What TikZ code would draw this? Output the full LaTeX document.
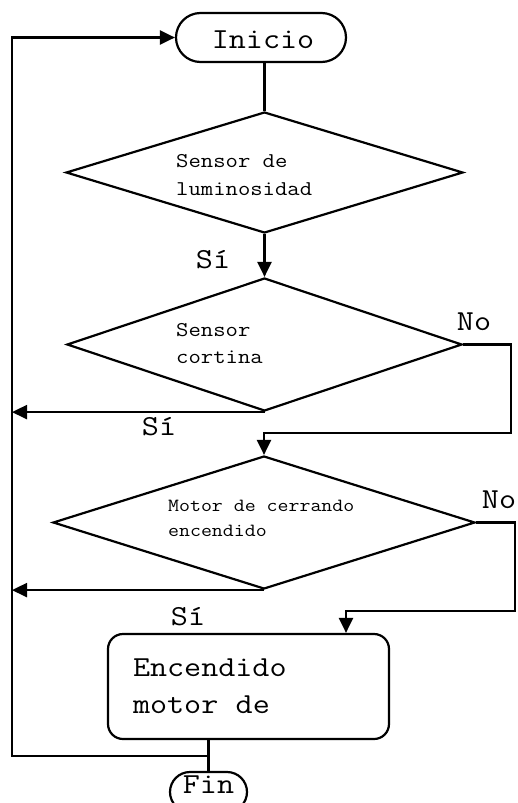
\documentclass[tikz,border=0pt]{standalone}
\usepackage{fontspec}
\setmonofont[FakeStretch=1.143]{Latin Modern Mono}
\usetikzlibrary{arrows.meta,shapes.geometric,shapes.misc}
\begin{document}
\begin{tikzpicture}[x=1pt,y=-1pt,
  every node/.style={font=\ttfamily},
  ln/.style={line width=2.2pt},
  arr/.style={line width=2.2pt,-{Triangle[length=15pt,width=14pt]}},
  term/.style={rounded rectangle, draw, line width=2.2pt, inner sep=0pt, font=\ttfamily\fontsize{29}{34}\selectfont},
  dec/.style={diamond, draw, line width=2.2pt, inner sep=0pt},
  dtext/.style={anchor=base west, align=left, inner sep=0pt},
  lbl/.style={anchor=base, inner sep=0pt, font=\ttfamily\fontsize{29}{34}\selectfont},
  proc/.style={rectangle, rounded corners=15pt, draw, line width=2.2pt, inner ysep=0pt, inner xsep=25pt, align=left, font=\ttfamily\fontsize{29}{37}\selectfont, execute at begin node={\spaceskip=0.6em\relax}}
]
\useasboundingbox (0,0) rectangle (518,803);
\clip (0,0) rectangle (518,803);

\node[term, minimum width=170pt, minimum height=49pt, text height=21pt, text depth=0pt] (ini) at (261,37.5) {\hspace*{4pt}Inicio};

\node[dec, minimum width=397pt, minimum height=121pt] (d1) at (264.5,172.5) {};
\node[dtext, font=\ttfamily\fontsize{21}{28}\selectfont] (t1) at (176,195) {Sensor de\\luminosidad};

\node[dec, minimum width=395pt, minimum height=133pt] (d2) at (264.5,344.5) {};
\node[dtext, font=\ttfamily\fontsize{21}{27}\selectfont] (t2) at (176,363) {Sensor\\cortina};

\node[dec, minimum width=422pt, minimum height=133pt] (d3) at (264,522.5) {};
\node[dtext, font=\ttfamily\fontsize{18.6}{25}\selectfont] (t3) at (168,536) {Motor de cerrando\\encendido};

\node[proc, minimum width=281pt, minimum height=105pt, text width=231pt] (box) at (248.5,686.5) {Encendido\\motor de};

\node[term, minimum width=77pt, minimum height=40pt, text height=11pt, text depth=9pt] (fin) at (208.5,792) {Fin};

\node[lbl] (s1) at (213,268) {Sí};
\node[lbl] (s2) at (159,435) {Sí};
\node[lbl] (s3) at (188,625) {Sí};
\node[lbl] (n1) at (474,330) {No};
\node[lbl] (n2) at (499,508) {No};

\coordinate (L) at (12,40);
\coordinate (c2) at (511,433);
\coordinate (c3) at (515,611);
\coordinate (c3b) at (346,611);
\coordinate (J) at (208.5,756);

\draw[ln] (ini.south -| d1.north) -- (d1.north);
\draw[arr] (d1.south) -- (d2.north);
\draw[arr] (d2.east) -| (c2) -| (d3.north);
\draw[arr] (d2.south) -- (d2.south -| L);
\draw[arr] (d3.east) -| (c3) -- (c3b) -- (box.north -| c3b);
\draw[arr] (d3.south) -- (d3.south -| L);
\draw[ln] (box.south -| fin.north) -- (fin.north);
\draw[arr] (J) -- (J -| L) |- (ini.west);
\end{tikzpicture}
\end{document}
